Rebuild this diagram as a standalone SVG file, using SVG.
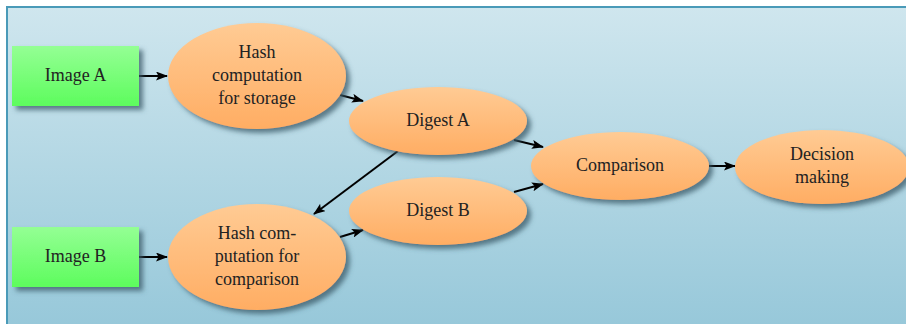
<svg xmlns="http://www.w3.org/2000/svg" width="906" height="324" viewBox="0 0 906 324">
<defs>
<linearGradient id="bg" x1="0" y1="0" x2="0" y2="1">
<stop offset="0" stop-color="#cfe6ee"/>
<stop offset="1" stop-color="#95c7d9"/>
</linearGradient>
<linearGradient id="green" x1="0" y1="0" x2="0" y2="1">
<stop offset="0" stop-color="#94ff94"/>
<stop offset="1" stop-color="#5dfc5d"/>
</linearGradient>
<linearGradient id="orange" x1="0" y1="0" x2="0" y2="1">
<stop offset="0" stop-color="#ffcb94"/>
<stop offset="1" stop-color="#ffad63"/>
</linearGradient>
<filter id="sh" x="-20%" y="-20%" width="150%" height="160%">
<feGaussianBlur in="SourceAlpha" stdDeviation="2.5"/>
<feOffset dx="4" dy="4" result="b"/>
<feFlood flood-color="#3a5a68" flood-opacity="0.75"/>
<feComposite in2="b" operator="in"/>
<feMerge><feMergeNode/><feMergeNode in="SourceGraphic"/></feMerge>
</filter>
<marker id="arr" viewBox="0 0 12 9" refX="11" refY="4.5" markerWidth="12" markerHeight="9" markerUnits="userSpaceOnUse" orient="auto">
<path d="M0,0 L12,4.5 L0,9 L2.5,4.5 Z" fill="#000"/>
</marker>
<style>
.rect{fill:url(#green);filter:url(#sh)}
.ell{fill:url(#orange);filter:url(#sh)}
.c line{stroke:#000;stroke-width:2;marker-end:url(#arr)}
</style>
</defs>
<rect x="7" y="7" width="906" height="330" fill="url(#bg)" stroke="#4a9ab8" stroke-width="2"/>
<g class="c" id="connectors">
<line x1="139" y1="76" x2="167" y2="76"/>
<line x1="340" y1="95" x2="363" y2="101"/>
<line x1="514" y1="140" x2="543" y2="147"/>
<line x1="514" y1="192" x2="543" y2="184"/>
<line x1="709" y1="166" x2="735" y2="166"/>
<line x1="139" y1="257" x2="167" y2="257"/>
<line x1="340" y1="237" x2="363" y2="230"/>
<line x1="398" y1="151" x2="314" y2="214"/>
</g>
<g id="imageA"><rect class="rect" x="12" y="46" width="127" height="60"/><text font-family="'Liberation Serif'" font-size="18" fill="#222" text-anchor="middle" x="75.5" y="81">Image A</text></g>
<g id="imageB"><rect class="rect" x="12" y="227" width="127" height="60"/><text font-family="'Liberation Serif'" font-size="18" fill="#222" text-anchor="middle" x="75.5" y="262">Image B</text></g>
<g id="hashStorage"><ellipse class="ell" cx="257" cy="76" rx="89" ry="53"/><text font-family="'Liberation Serif'" font-size="18" fill="#222" text-anchor="middle" x="257" y="58">Hash</text><text font-family="'Liberation Serif'" font-size="18" fill="#222" text-anchor="middle" x="257" y="81">computation</text><text font-family="'Liberation Serif'" font-size="18" fill="#222" text-anchor="middle" x="257" y="104">for storage</text></g>
<g id="hashComparison"><ellipse class="ell" cx="257" cy="257" rx="89" ry="53"/><text font-family="'Liberation Serif'" font-size="18" fill="#222" text-anchor="middle" x="257" y="239">Hash com-</text><text font-family="'Liberation Serif'" font-size="18" fill="#222" text-anchor="middle" x="257" y="262">putation for</text><text font-family="'Liberation Serif'" font-size="18" fill="#222" text-anchor="middle" x="257" y="285">comparison</text></g>
<g id="digestA"><ellipse class="ell" cx="438" cy="121" rx="89" ry="34"/><text font-family="'Liberation Serif'" font-size="18" fill="#222" text-anchor="middle" x="438" y="126">Digest A</text></g>
<g id="digestB"><ellipse class="ell" cx="438" cy="211" rx="89" ry="34"/><text font-family="'Liberation Serif'" font-size="18" fill="#222" text-anchor="middle" x="438" y="216">Digest B</text></g>
<g id="comparison"><ellipse class="ell" cx="620" cy="166" rx="89" ry="34"/><text font-family="'Liberation Serif'" font-size="18" fill="#222" text-anchor="middle" x="620" y="171">Comparison</text></g>
<g id="decision"><ellipse class="ell" cx="822" cy="167" rx="87" ry="37"/><text font-family="'Liberation Serif'" font-size="18" fill="#222" text-anchor="middle" x="822" y="160">Decision</text><text font-family="'Liberation Serif'" font-size="18" fill="#222" text-anchor="middle" x="822" y="183">making</text></g>
</svg>
